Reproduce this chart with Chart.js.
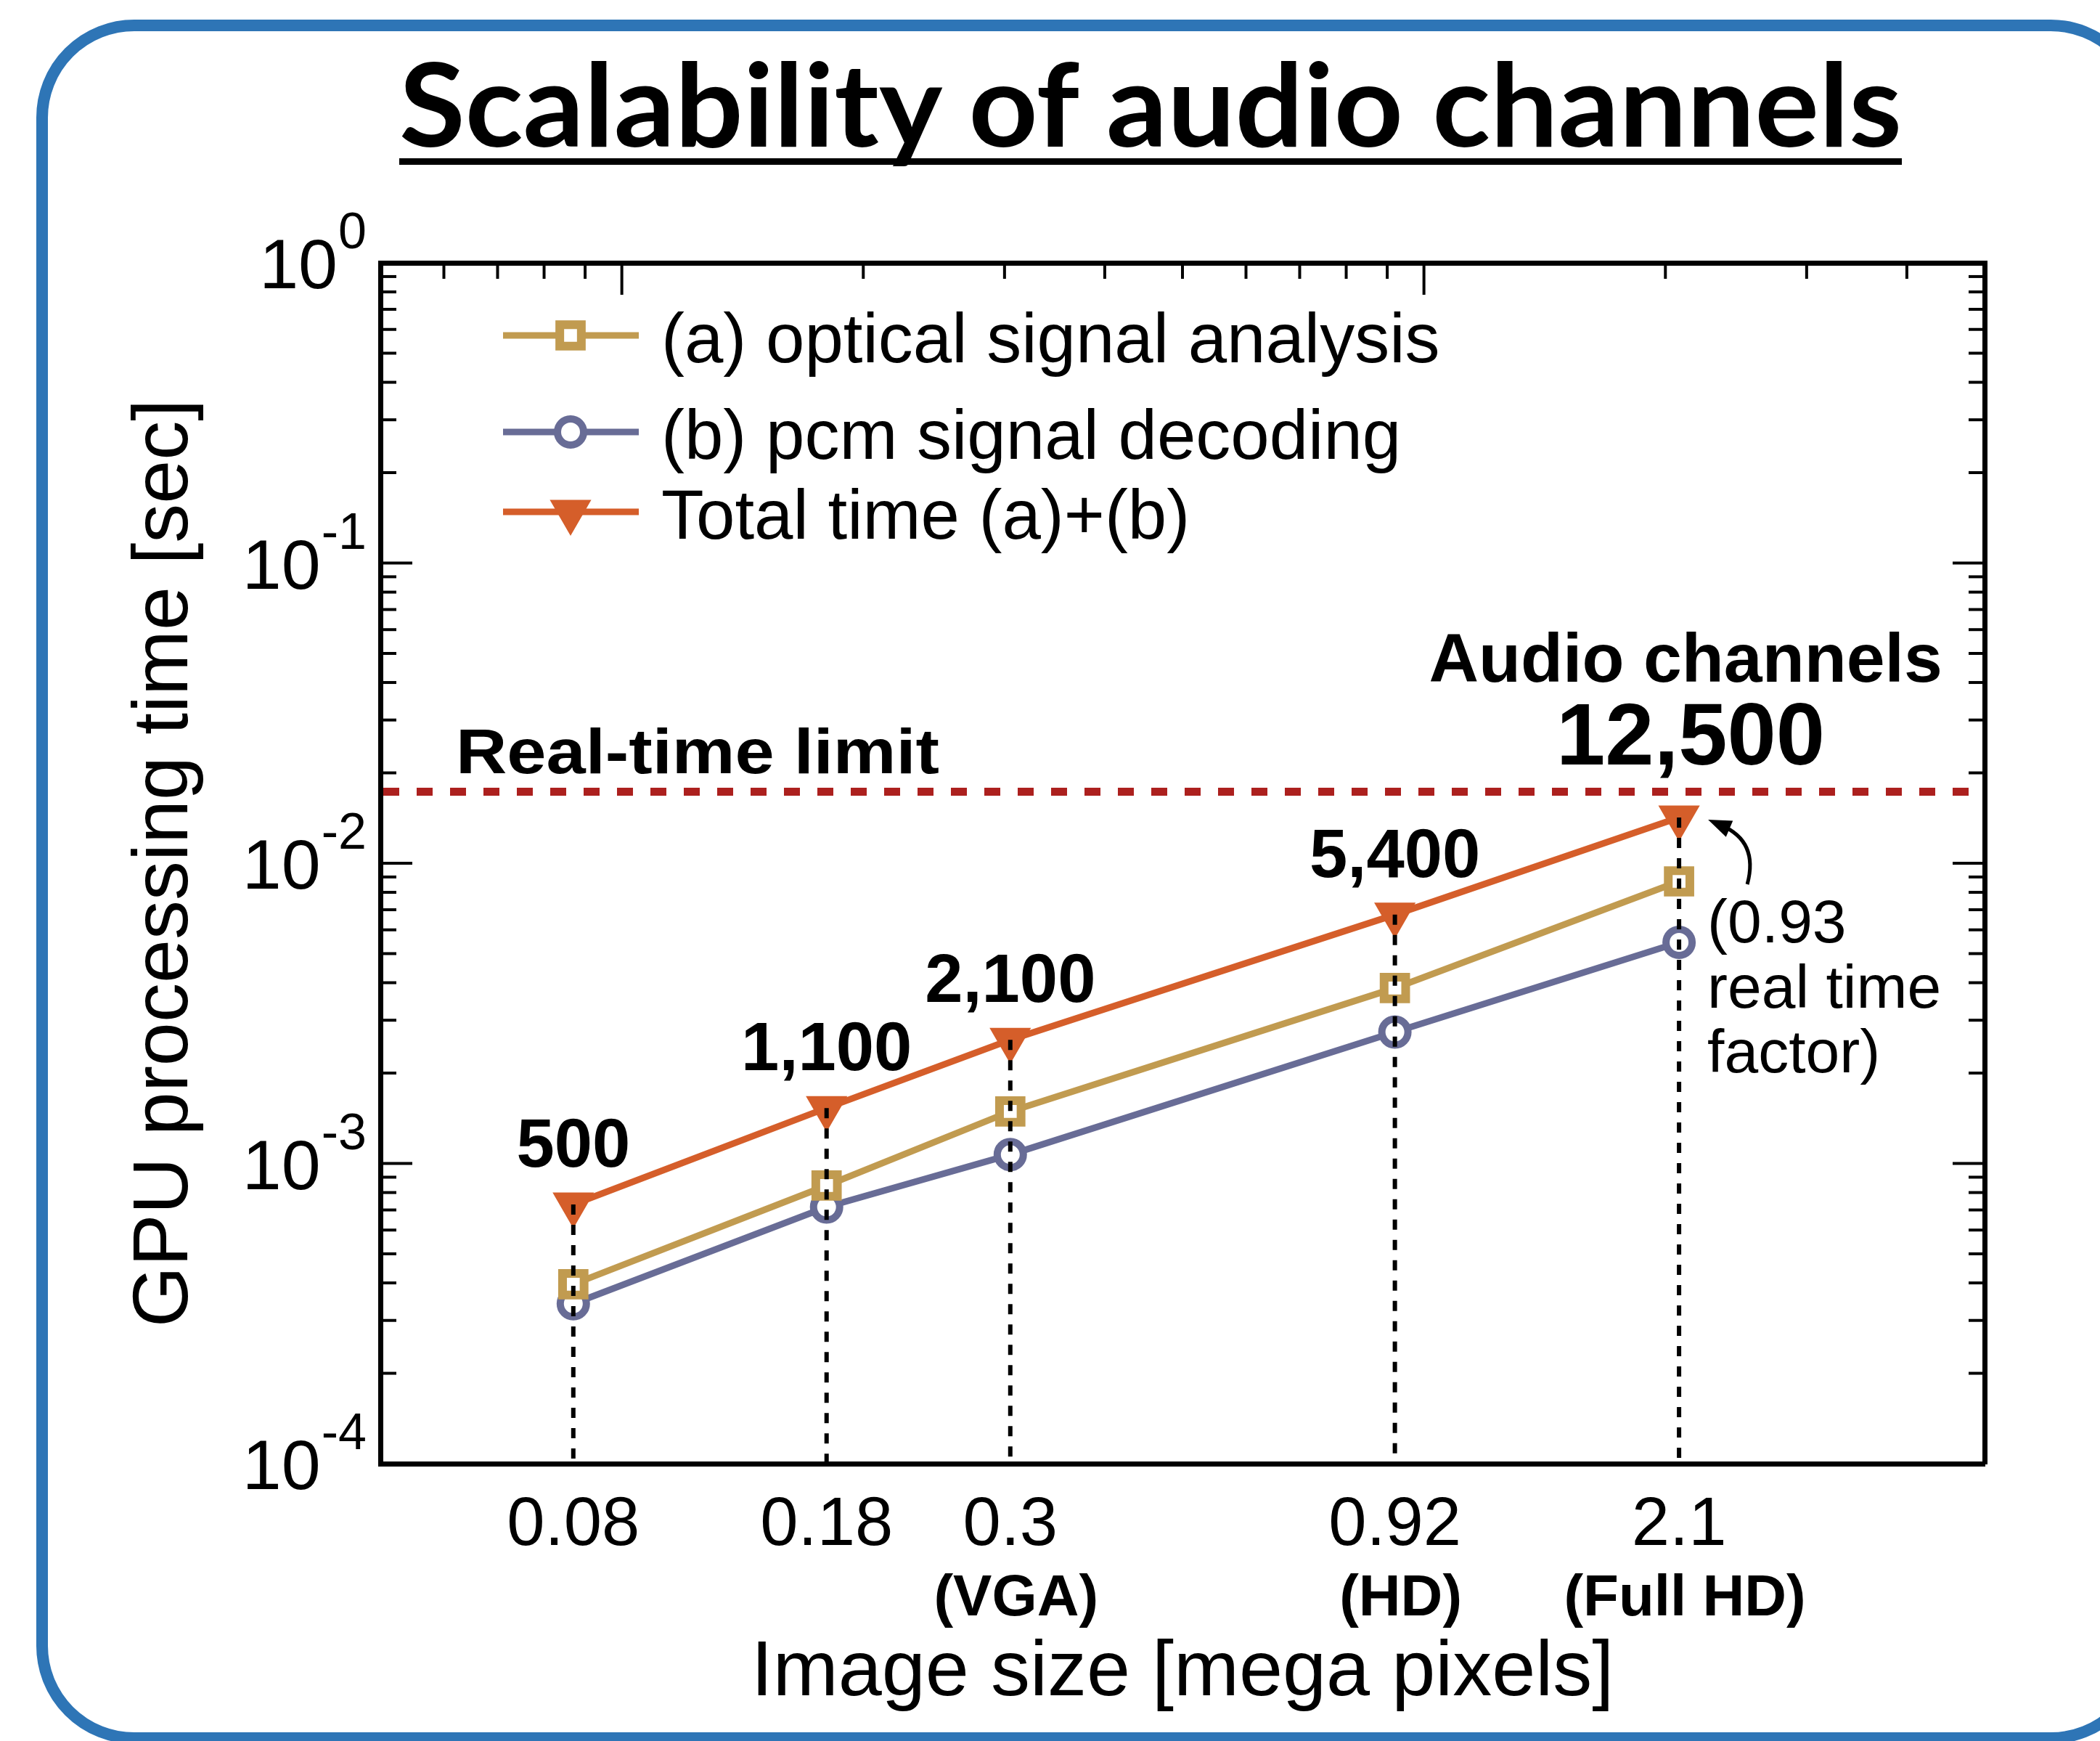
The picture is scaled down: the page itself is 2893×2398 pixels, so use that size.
<!DOCTYPE html>
<html>
<head>
<meta charset="utf-8">
<script src="https://cdn.jsdelivr.net/npm/chart.js@4.4.0/dist/chart.umd.min.js"></script>
<style>
  html, body { margin: 0; padding: 0; background: #fff; overflow: hidden; }
  #page { position: relative; width: 2893px; height: 2398px; overflow: hidden; }
  #chartBox { position: absolute; left: 0; top: 0; width: 2893px; height: 2398px; }
  #frame {
    position: absolute; left: 50px; top: 27px; width: 2910px; height: 2375px;
    border: 16px solid #2E75B6; border-radius: 135px; box-sizing: border-box;
  }
  #title {
    position: absolute; left: 550px; top: 61px; margin: 0;
    font: bold 159px Lato, "Open Sans", sans-serif; line-height: 1; white-space: nowrap;
    text-decoration: underline; text-decoration-thickness: 9px; text-underline-offset: 16px;
    text-decoration-skip-ink: none; transform-origin: 0 0;
  }
</style>
</head>
<body>
<div id="page">
  <div id="chartBox"><canvas id="LineChart" width="2893" height="2398"></canvas></div>
  <div id="frame"></div>
  <h1 id="title">Scalability of audio channels</h1>
</div>
<script>
// values
const imageSizes = [0.087, 0.18, 0.305, 0.92, 2.08];
const sizeTickLabels = ["0.08", "0.18", "0.3", "0.92", "2.1"];
const formatLabels = ["", "", "(VGA)", "(HD)", "(Full HD)"];
const opticalTimes = [3.96e-4, 8.44e-4, 1.49e-3, 3.84e-3, 8.7e-3];
const pcmTimes = [3.41e-4, 7.16e-4, 1.07e-3, 2.74e-3, 5.45e-3];
const totalTimes = [7.3e-4, 1.53e-3, 2.58e-3, 6.74e-3, 1.42e-2];
const audioChannels = [500, 1100, 2100, 5400, 12500];
const realTimeLimit = 0.0173;
const yTickValues = [1e-4, 1e-3, 1e-2, 1e-1, 1];
const yTickExponents = ["-4", "-3", "-2", "-1", "0"];
const noteLines = ["(0.93", "real time", "factor)"];

const FONT = "'Liberation Sans', Arial, Helvetica, sans-serif";
const LineChart = document.getElementById("LineChart");

//Fit title width like the original slide
const title = document.getElementById("title");
const titleWidth = title.getBoundingClientRect().width;
title.style.transform = `scaleX(${2070 / titleWidth})`;

function toPoints(values) {
  return imageSizes.map((x, i) => ({ x: x, y: values[i] }));
}

//Log tick values (1..9 x 10^n) inside a range
function logValues(min, max) {
  const out = [];
  for (let e = Math.floor(Math.log10(min)); e <= Math.ceil(Math.log10(max)); e++) {
    for (let m = 1; m < 10; m++) {
      const v = m * Math.pow(10, e);
      if (v >= min * 0.999 && v <= max * 1.001) out.push({ v: v, major: m === 1 });
    }
  }
  return out;
}

function line(ctx, x1, y1, x2, y2) {
  ctx.beginPath();
  ctx.moveTo(x1, y1);
  ctx.lineTo(x2, y2);
  ctx.stroke();
}

function fitText(ctx, text, x, y, width) {
  const w = ctx.measureText(text).width;
  ctx.save();
  ctx.translate(x, y);
  ctx.scale(width / w, 1);
  ctx.fillText(text, 0, 0);
  ctx.restore();
}

function drawMarker(ctx, ds, cx, cy) {
  const r = ds.pointRadius;
  ctx.save();
  ctx.fillStyle = ds.pointBackgroundColor;
  ctx.strokeStyle = ds.pointBorderColor;
  ctx.lineWidth = ds.pointBorderWidth;
  ctx.beginPath();
  if (ds.pointStyle === "rect") {
    const s = r * Math.SQRT1_2;
    ctx.rect(cx - s, cy - s, 2 * s, 2 * s);
  } else if (ds.pointStyle === "triangle") {
    let rad = (ds.pointRotation * Math.PI) / 180;
    ctx.moveTo(cx + Math.sin(rad) * r, cy - Math.cos(rad) * r);
    for (let k = 0; k < 2; k++) {
      rad += (2 * Math.PI) / 3;
      ctx.lineTo(cx + Math.sin(rad) * r, cy - Math.cos(rad) * r);
    }
  } else {
    ctx.arc(cx, cy, r, 0, 2 * Math.PI);
  }
  ctx.closePath();
  ctx.fill();
  ctx.stroke();
  ctx.restore();
}

//Drop lines, real-time limit, channel counts, note
const annotations = {
  id: "annotations",
  afterDatasetsDraw(chart) {
    const { ctx, chartArea: area } = chart;
    const x = chart.scales.x;
    const y = chart.scales.y;
    ctx.save();

    ctx.strokeStyle = "#000";
    ctx.lineWidth = 6;
    ctx.setLineDash([14, 14]);
    imageSizes.forEach((v, i) => {
      const px = x.getPixelForValue(v);
      line(ctx, px, y.getPixelForValue(totalTimes[i]), px, area.bottom);
    });

    const limitY = y.getPixelForValue(realTimeLimit);
    ctx.strokeStyle = "rgb(172, 32, 30)";
    ctx.lineWidth = 11;
    ctx.setLineDash([22, 24]);
    line(ctx, area.left + 4, limitY, area.right - 4, limitY);
    ctx.setLineDash([]);

    ctx.fillStyle = "#000";
    ctx.textBaseline = "alphabetic";
    ctx.textAlign = "left";
    ctx.font = `bold 87px ${FONT}`;
    fitText(ctx, "Real-time limit", area.left + 104, limitY - 26, 666);

    ctx.textAlign = "center";
    const last = audioChannels.length - 1;
    audioChannels.forEach((n, i) => {
      const px = x.getPixelForValue(imageSizes[i]);
      const py = y.getPixelForValue(totalTimes[i]);
      const big = i === last;
      ctx.font = `bold ${big ? 121 : 94}px ${FONT}`;
      ctx.fillText(n.toLocaleString("en-US"), px + (big ? 16 : 0), py - (big ? 73 : 52));
    });

    const xl = x.getPixelForValue(imageSizes[last]);
    const yl = y.getPixelForValue(totalTimes[last]);
    ctx.font = `bold 95px ${FONT}`;
    ctx.fillText("Audio channels", xl + 9, yl - 187);

    ctx.textAlign = "left";
    ctx.font = `84px ${FONT}`;
    noteLines.forEach((t, k) => ctx.fillText(t, xl + 39, yl + 172 + k * 89.5));

    // curved arrow to the last point
    const p0 = [xl + 94, yl + 92], c = [xl + 110, yl + 33], tip = [xl + 40, yl + 3];
    let dx = tip[0] - c[0], dy = tip[1] - c[1];
    const len = Math.hypot(dx, dy);
    dx /= len; dy /= len;
    ctx.strokeStyle = "#000";
    ctx.lineWidth = 5;
    ctx.beginPath();
    ctx.moveTo(p0[0], p0[1]);
    ctx.quadraticCurveTo(c[0], c[1], tip[0] - dx * 20, tip[1] - dy * 20);
    ctx.stroke();
    ctx.beginPath();
    ctx.moveTo(tip[0], tip[1]);
    ctx.lineTo(tip[0] - dx * 32 - dy * 12, tip[1] - dy * 32 + dx * 12);
    ctx.lineTo(tip[0] - dx * 32 + dy * 12, tip[1] - dy * 32 - dx * 12);
    ctx.closePath();
    ctx.fill();

    ctx.restore();
  },
  afterDraw(chart) {
    const { ctx, chartArea: area } = chart;
    const x = chart.scales.x;
    const y = chart.scales.y;
    const xTop = chart.scales.xTop;
    ctx.save();

    // inward ticks on left, right and top
    ctx.strokeStyle = "#000";
    ctx.lineWidth = 4;
    logValues(y.min, y.max).forEach((t) => {
      const py = y.getPixelForValue(t.v);
      const l = t.major ? 44 : 22;
      line(ctx, area.left, py, area.left + l, py);
      line(ctx, area.right, py, area.right - l, py);
    });
    logValues(xTop.min, xTop.max).forEach((t) => {
      const px = xTop.getPixelForValue(t.v);
      line(ctx, px, area.top, px, area.top + (t.major ? 44 : 22));
    });

    // y labels 10^n
    ctx.fillStyle = "#000";
    ctx.textBaseline = "alphabetic";
    ctx.textAlign = "right";
    yTickValues.forEach((v, i) => {
      const py = y.getPixelForValue(v);
      ctx.font = `70px ${FONT}`;
      const ew = ctx.measureText(yTickExponents[i]).width;
      ctx.fillText(yTickExponents[i], area.left - 19, py - 20);
      ctx.font = `97px ${FONT}`;
      ctx.fillText("10", area.left - 19 - ew - 1, py + 35);
    });

    // x labels at the measured sizes
    ctx.textAlign = "center";
    imageSizes.forEach((v, i) => {
      const px = x.getPixelForValue(v);
      ctx.font = `94px ${FONT}`;
      ctx.fillText(sizeTickLabels[i], px, area.bottom + 112);
      ctx.font = `bold 80px ${FONT}`;
      ctx.fillText(formatLabels[i], px + 8, area.bottom + 209);
    });

    // legend
    const rows = [462, 595, 705];
    chart.data.datasets.forEach((ds, i) => {
      const ly = rows[i];
      ctx.strokeStyle = ds.borderColor;
      ctx.lineWidth = ds.borderWidth;
      line(ctx, 693, ly, 880, ly);
      drawMarker(ctx, ds, 786, ly);
      ctx.fillStyle = "#000";
      ctx.textAlign = "left";
      ctx.font = `96px ${FONT}`;
      ctx.fillText(ds.label, 911, ly + 37);
    });

    ctx.restore();
  },
};

const orange = "rgb(213, 94, 42)";
const gold = "rgb(193, 155, 80)";
const slate = "rgb(104, 108, 150)";

const hiddenGrid = { drawOnChartArea: false, drawTicks: false };
const axisBorder = { display: true, color: "#000", width: 7 };

new Chart(LineChart.getContext("2d"), {
  type: "line",
  data: {
    datasets: [
      {
        label: "(a) optical signal analysis",
        data: toPoints(opticalTimes),
        borderColor: gold,
        borderWidth: 9,
        pointStyle: "rect",
        pointRadius: 21,
        pointBorderWidth: 12,
        pointBorderColor: gold,
        pointBackgroundColor: "#fff",
        pointRotation: 0,
      },
      {
        label: "(b) pcm signal decoding",
        data: toPoints(pcmTimes),
        borderColor: slate,
        borderWidth: 9,
        pointStyle: "circle",
        pointRadius: 18,
        pointBorderWidth: 10,
        pointBorderColor: slate,
        pointBackgroundColor: "#fff",
        pointRotation: 0,
      },
      {
        label: "Total time (a)+(b)",
        data: toPoints(totalTimes),
        borderColor: orange,
        borderWidth: 9,
        pointStyle: "triangle",
        pointRotation: 180,
        pointRadius: 31,
        pointBorderWidth: 2,
        pointBorderColor: orange,
        pointBackgroundColor: orange,
      },
    ],
  },
  options: {
    responsive: false,
    animation: false,
    layout: { padding: 0 },
    elements: { line: { tension: 0 } },
    plugins: { legend: { display: false }, tooltip: { enabled: false } },
    scales: {
      x: {
        type: "logarithmic",
        position: "bottom",
        min: 0.05,
        max: 5,
        grid: hiddenGrid,
        border: axisBorder,
        ticks: { display: false },
        title: {
          display: true,
          text: "Image size [mega pixels]",
          color: "#000",
          font: { family: FONT, size: 108 },
          padding: { top: 0, bottom: 28 },
        },
        afterFit: (scale) => { scale.height = 382; },
      },
      xTop: {
        type: "logarithmic",
        position: "top",
        min: 0.05,
        max: 5,
        grid: hiddenGrid,
        border: axisBorder,
        ticks: { display: false },
        afterFit: (scale) => { scale.height = 362; },
      },
      y: {
        type: "logarithmic",
        position: "left",
        min: 1e-4,
        max: 1,
        grid: hiddenGrid,
        border: axisBorder,
        ticks: { display: false },
        title: {
          display: true,
          text: "GPU processing time [sec]",
          color: "#000",
          font: { family: FONT, size: 108 },
          padding: { top: 163, bottom: 0 },
        },
        afterFit: (scale) => { scale.width = 524; },
      },
      yRight: {
        type: "logarithmic",
        position: "right",
        min: 1e-4,
        max: 1,
        grid: hiddenGrid,
        border: axisBorder,
        ticks: { display: false },
        afterFit: (scale) => { scale.width = 159; },
      },
    },
  },
  plugins: [annotations],
});
</script>
</body>
</html>
